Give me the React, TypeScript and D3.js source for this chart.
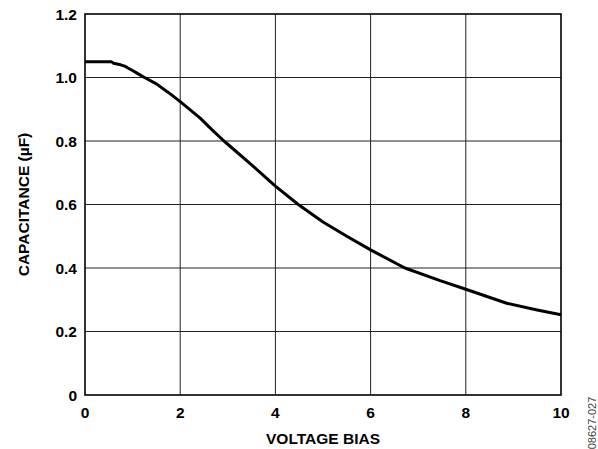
import React from 'react';
import * as d3 from 'd3';

// capacitance vs. voltage bias
const biasV = [0, 0.3, 0.55, 0.6, 0.75, 0.85, 0.9, 1.0, 1.1, 1.25, 1.5, 1.75, 2.0, 2.42, 2.67, 2.92, 3.5, 4.0, 4.48, 5.0, 5.5, 6.0, 6.72, 7.46, 8.0, 8.86, 9.5, 10];
const capUF = [1.05, 1.05, 1.05, 1.045, 1.04, 1.035, 1.03, 1.022, 1.013, 1.0, 0.98, 0.953, 0.924, 0.872, 0.835, 0.8, 0.725, 0.658, 0.6, 0.545, 0.5, 0.457, 0.4, 0.36, 0.333, 0.289, 0.268, 0.253];
const xTicks = [0, 2, 4, 6, 8, 10];
const yTicks = [0, 0.2, 0.4, 0.6, 0.8, 1.0, 1.2];

const W = 598;
const H = 449;
const m = { left: 85, right: 37, top: 14, bottom: 54 };

export default function App() {
  const x = d3.scaleLinear().domain([0, 10]).range([m.left, W - m.right]);
  const y = d3.scaleLinear().domain([0, 1.2]).range([H - m.bottom, m.top]);

  const line = d3.line<number>()
    .x((d, i) => x(biasV[i]))
    .y((d) => y(d));

  const font = 'Arial, "Liberation Sans", Helvetica, sans-serif';

  return (
    <svg width={W} height={H} style={{ position: 'absolute', left: 0, top: 0 }} fontFamily={font}>
      <rect width={W} height={H} fill="#fff" />
      {/* grid */}
      {xTicks.slice(1, -1).map((t) => (
        <line key={'gx' + t} x1={x(t)} x2={x(t)} y1={y(0)} y2={y(1.2)} stroke="#222" strokeWidth={1} />
      ))}
      {yTicks.slice(1, -1).map((t) => (
        <line key={'gy' + t} x1={x(0)} x2={x(10)} y1={y(t)} y2={y(t)} stroke="#222" strokeWidth={1} />
      ))}
      <rect x={x(0)} y={y(1.2)} width={x(10) - x(0)} height={y(0) - y(1.2)} fill="none" stroke="#000" strokeWidth={1.6} />

      <path d={line(capUF) || ''} fill="none" stroke="#000" strokeWidth={3} strokeLinejoin="round" />

      {/* tick labels */}
      {yTicks.map((t) => (
        <text key={'ty' + t} x={x(0) - 8} y={y(t)} dy="0.36em" textAnchor="end" fontSize={15.5} fontWeight="bold">
          {t === 0 ? '0' : t.toFixed(1)}
        </text>
      ))}
      {xTicks.map((t) => (
        <text key={'tx' + t} x={x(t)} y={y(0) + 23} textAnchor="middle" fontSize={15.5} fontWeight="bold">
          {t}
        </text>
      ))}

      <text x={(x(0) + x(10)) / 2} y={444} textAnchor="middle" fontSize={15.5} fontWeight="bold">
        VOLTAGE BIAS
      </text>
      <text
        transform={`translate(29,${(y(0) + y(1.2)) / 2}) rotate(-90)`}
        textAnchor="middle"
        fontSize={15.5}
        fontWeight="bold"
      >
        CAPACITANCE (µF)
      </text>
      <text transform="translate(596,423) rotate(-90)" textAnchor="middle" fontSize={11} fill="#444">
        08627-027
      </text>
    </svg>
  );
}
